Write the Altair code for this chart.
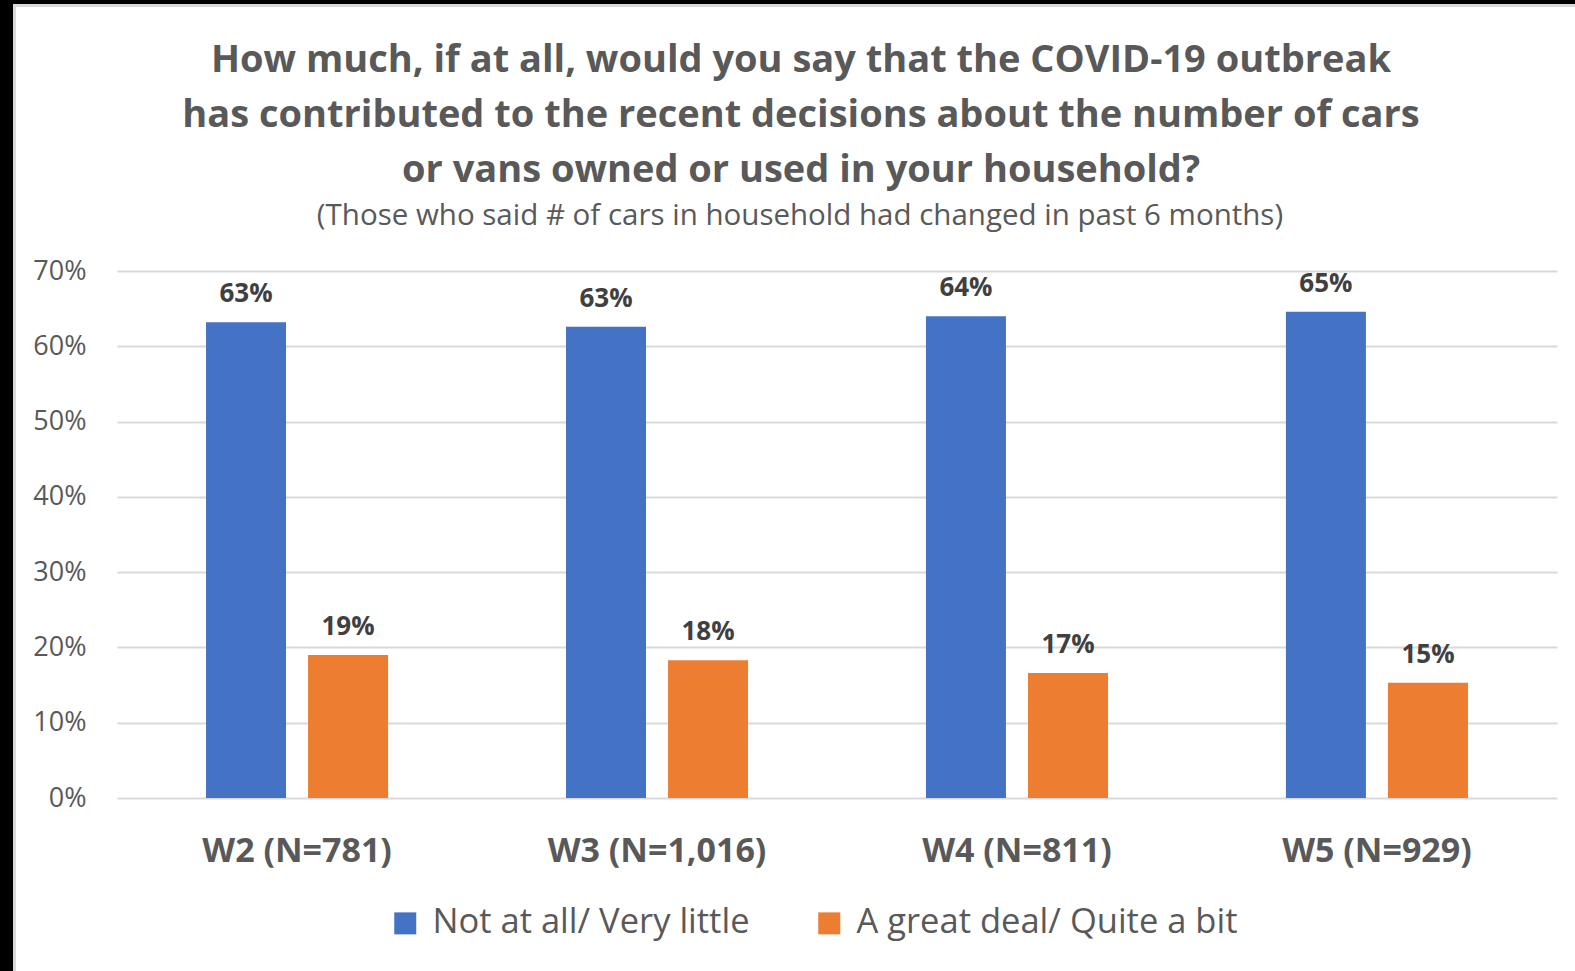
import altair as alt
import pandas as pd

# ---- data ----
waves = ["W2 (N=781)", "W3 (N=1,016)", "W4 (N=811)", "W5 (N=929)"]
series = ["Not at all/ Very little", "A great deal/ Quite a bit"]
not_at_all = [63.2, 62.6, 64.0, 64.6]
great_deal = [19.0, 18.3, 16.6, 15.3]
y_ticks = [0, 0.1, 0.2, 0.3, 0.4, 0.5, 0.6, 0.7]
colors = ["#4472C4", "#ED7D31"]

title_lines = [
    "How much, if at all, would you say that the COVID-19 outbreak",
    "has contributed to the recent decisions about the number of cars",
    "or vans owned or used in your household?",
]
subtitle = "(Those who said # of cars in household had changed in past 6 months)"

rows = []
for i, w in enumerate(waves):
    rows.append({"wave": w, "series": series[0], "value": not_at_all[i] / 100})
    rows.append({"wave": w, "series": series[1], "value": great_deal[i] / 100})
df = pd.DataFrame(rows)

FONT = "Open Sans"
GRAY = "#595959"

W, H = 1440, 527
PL, PT = 117, 271

x_enc = alt.X("wave:N", sort=waves,
              scale=alt.Scale(paddingInner=0.433, paddingOuter=0.2167),
              axis=alt.Axis(title=None, labelAngle=0, labelFont=FONT, labelFontSize=34,
                            labelFontWeight="bold", labelColor=GRAY, labelPadding=36,
                            labelLimit=500, ticks=False, domain=False, grid=False))
xoff_enc = alt.XOffset("series:N", sort=series,
                       scale=alt.Scale(paddingInner=0.216, paddingOuter=0.108))
y_enc = alt.Y("value:Q", scale=alt.Scale(domain=[0, 0.7], nice=False),
              axis=alt.Axis(title=None, values=y_ticks, format=".0%", labelFont=FONT,
                            labelFontSize=27, labelColor=GRAY, labelPadding=31,
                            ticks=False, domain=False, grid=True, gridColor="#D9D9D9",
                            gridWidth=2))

bars = alt.Chart(df).mark_bar().encode(
    x=x_enc,
    xOffset=xoff_enc,
    y=y_enc,
    color=alt.Color("series:N", sort=series,
                    scale=alt.Scale(domain=series, range=colors),
                    legend=alt.Legend(title=None, orient="none", legendX=271, legendY=635,
                                      direction="horizontal", symbolType="square",
                                      symbolSize=484, symbolStrokeWidth=0,
                                      labelFont=FONT, labelFontSize=34.5, labelColor=GRAY,
                                      labelOffset=10, columnPadding=62, labelLimit=600)),
)

labels = alt.Chart(df).mark_text(
    baseline="bottom", dy=-15, font=FONT, fontSize=26, fontWeight="bold", color="#404040"
).encode(
    x=alt.X("wave:N", sort=waves),
    xOffset=alt.XOffset("series:N", sort=series),
    y="value:Q",
    text=alt.Text("value:Q", format=".0%"),
)

one = alt.Data(values=[{"k": 1}])

title_layers = []
title_base_y = [72, 127, 182]
for line, yy in zip(title_lines, title_base_y):
    title_layers.append(
        alt.Chart(one).mark_text(
            font=FONT, fontSize=38, fontWeight="bold", color=GRAY, align="center",
            baseline="alphabetic"
        ).encode(x=alt.value(801 - PL), y=alt.value(yy - PT), text=alt.value(line))
    )
title_layers.append(
    alt.Chart(one).mark_text(
        font=FONT, fontSize=29.5, color=GRAY, align="center", baseline="alphabetic"
    ).encode(x=alt.value(800 - PL), y=alt.value(225 - PT), text=alt.value(subtitle))
)

# frame border (black strip at left and top with a light inner line)
border = [
    alt.Chart(one).mark_rect(color="#000000").encode(
        x=alt.value(-PL), x2=alt.value(13 - PL), y=alt.value(-PT), y2=alt.value(971 - PT)),
    alt.Chart(one).mark_rect(color="#000000").encode(
        x=alt.value(-PL), x2=alt.value(1575 - PL), y=alt.value(-PT), y2=alt.value(4 - PT)),
    alt.Chart(one).mark_rect(color="#D9D9D9").encode(
        x=alt.value(13 - PL), x2=alt.value(16 - PL), y=alt.value(4 - PT), y2=alt.value(971 - PT)),
    alt.Chart(one).mark_rect(color="#D9D9D9").encode(
        x=alt.value(13 - PL), x2=alt.value(1575 - PL), y=alt.value(4 - PT), y2=alt.value(7 - PT)),
]

chart = alt.layer(bars, labels, *title_layers, *border).properties(
    width=W, height=H,
    autosize=alt.AutoSizeParams(type="none"),
    padding={"left": PL, "top": PT, "right": 1575 - PL - W, "bottom": 971 - PT - H},
    background="white",
).configure_view(stroke=None)

chart.save("out.html", embed_options={"renderer": "svg", "actions": False})
